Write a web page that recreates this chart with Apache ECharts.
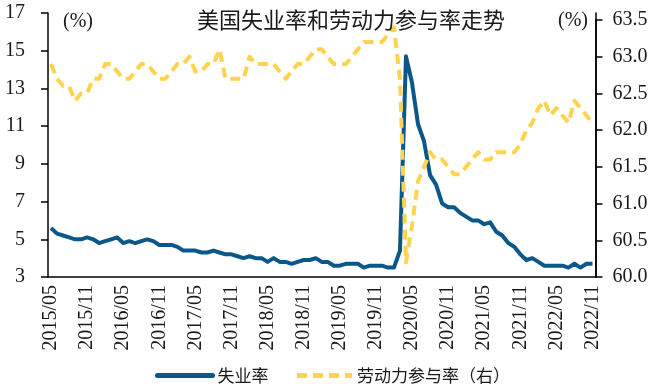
<!DOCTYPE html>
<html>
<head>
<meta charset="utf-8">
<script src="https://cdn.jsdelivr.net/npm/echarts@6/dist/echarts.min.js"></script>
<style>
html,body{margin:0;padding:0;background:#fff;}
#chart{width:659px;height:385px;}
</style>
</head>
<body>
<div id="chart"></div>
<script>
// Months May 2015 - Nov 2022
const months = [];
(function () {
  let y = 2015, m = 5;
  while (!(y === 2022 && m === 12)) {
    months.push(y + '/' + (m < 10 ? '0' + m : '' + m));
    m++; if (m > 12) { m = 1; y++; }
  }
})();

const unemployment = [
  5.6, 5.3, 5.2, 5.1, 5.0, 5.0, 5.1, 5.0, 4.8, 4.9, 5.0, 5.1,
  4.8, 4.9, 4.8, 4.9, 5.0, 4.9, 4.7, 4.7, 4.7, 4.6, 4.4, 4.4,
  4.4, 4.3, 4.3, 4.4, 4.3, 4.2, 4.2, 4.1, 4.0, 4.1, 4.0, 4.0,
  3.8, 4.0, 3.8, 3.8, 3.7, 3.8, 3.9, 3.9, 4.0, 3.8, 3.8, 3.6,
  3.6, 3.7, 3.7, 3.7, 3.5, 3.6, 3.6, 3.6, 3.5, 3.5, 4.4, 14.7,
  13.3, 11.1, 10.2, 8.4, 7.9, 6.9, 6.7, 6.7, 6.4, 6.2, 6.0, 6.0,
  5.8, 5.9, 5.4, 5.2, 4.8, 4.6, 4.2, 3.9, 4.0, 3.8, 3.6, 3.6,
  3.6, 3.6, 3.5, 3.7, 3.5, 3.7, 3.7
];

const participation = [
  62.9, 62.7, 62.6, 62.6, 62.4, 62.5, 62.5, 62.7, 62.7, 62.9, 62.9, 62.8,
  62.7, 62.7, 62.8, 62.9, 62.9, 62.8, 62.7, 62.7, 62.8, 62.9, 62.9, 63.0,
  62.8, 62.8, 62.9, 62.9, 63.1, 62.7, 62.7, 62.7, 62.7, 63.0, 62.9, 62.9,
  62.9, 62.9, 62.8, 62.7, 62.8, 62.9, 62.9, 63.0, 63.1, 63.1, 63.0, 62.9,
  62.9, 62.9, 63.0, 63.1, 63.2, 63.2, 63.2, 63.2, 63.3, 63.4, 62.7, 60.2,
  60.7, 61.3, 61.5, 61.7, 61.6, 61.6, 61.5, 61.4, 61.4, 61.5, 61.6, 61.7,
  61.6, 61.6, 61.7, 61.7, 61.7, 61.7, 61.8, 62.0, 62.1, 62.3, 62.4, 62.2,
  62.3, 62.2, 62.1, 62.4, 62.3, 62.2, 62.1
];

const leftTicks = { min: 3, max: 17, interval: 2 };
const rightTicks = { min: 60, max: 63.5, interval: 0.5 };

const titleText = '美国失业率和劳动力参与率走势';
const seriesNames = ['失业率', '劳动力参与率（右）'];

const BLUE = '#0b5789';
const YELLOW = '#ffd24f';
const NUM_FONT = 'Liberation Serif';
const CJK_FONT = 'Noto Sans CJK SC';
const TXT = '#1a1a1a';

const chart = echarts.init(document.getElementById('chart'), null, { renderer: 'canvas' });

const axisLineStyle = { color: '#000', width: 1.5 };

chart.setOption({
  animation: false,
  backgroundColor: '#fff',
  title: {
    text: titleText,
    left: 346, textAlign: 'center', top: 4,
    textStyle: { fontFamily: CJK_FONT, fontSize: 22, fontWeight: 'normal', color: TXT }
  },
  legend: {
    left: 150, top: 362,
    itemWidth: 55, itemHeight: 14, itemGap: 26,
    itemStyle: { opacity: 0 },
    textStyle: { fontFamily: CJK_FONT, fontSize: 17, color: TXT },
    data: [
      { name: seriesNames[0], itemStyle: { opacity: 0 }, lineStyle: { width: 5, color: BLUE, cap: 'round' } },
      { name: seriesNames[1], itemStyle: { opacity: 0 }, lineStyle: { width: 5, color: YELLOW, type: [10, 6] } }
    ]
  },
  graphic: [
    { type: 'text', left: 63, top: 12, style: { text: '(%)', font: '20px "Liberation Serif"', fill: TXT } },
    { type: 'text', left: 558, top: 11, style: { text: '(%)', font: '20px "Liberation Serif"', fill: TXT } }
  ],
  grid: [
    { left: 48, right: 63.5, top: 13, bottom: 108 },
    { left: 48, right: 63.5, top: 20, bottom: 108 }
  ],
  xAxis: [
    {
      type: 'category', gridIndex: 0, data: months, boundaryGap: true,
      axisLine: { lineStyle: axisLineStyle },
      axisTick: { interval: 5, length: 6, lineStyle: axisLineStyle },
      axisLabel: {
        interval: 5, rotate: 90, margin: 8,
        fontFamily: NUM_FONT, fontSize: 20, color: TXT,
        padding: [0, 0, 6, 0]
      },
      splitLine: { show: false }
    },
    {
      type: 'category', gridIndex: 1, data: months, boundaryGap: true, show: false
    }
  ],
  yAxis: [
    {
      type: 'value', gridIndex: 0, position: 'left',
      min: leftTicks.min, max: leftTicks.max, interval: leftTicks.interval,
      axisLine: { show: true, lineStyle: axisLineStyle },
      axisTick: { show: true, length: 7, lineStyle: axisLineStyle },
      axisLabel: { margin: 23, fontFamily: NUM_FONT, fontSize: 20, color: TXT },
      splitLine: { show: false }
    },
    {
      type: 'value', gridIndex: 1, position: 'right',
      min: rightTicks.min, max: rightTicks.max, interval: rightTicks.interval,
      axisLine: { show: true, lineStyle: axisLineStyle },
      axisTick: { show: true, length: 7, lineStyle: axisLineStyle },
      axisLabel: {
        margin: 17, fontFamily: NUM_FONT, fontSize: 20, color: TXT,
        formatter: function (v) { return v.toFixed(1); }
      },
      splitLine: { show: false }
    },
    {
      type: 'value', gridIndex: 0, position: 'right', min: 0, max: 1,
      axisLine: { show: true, lineStyle: axisLineStyle },
      axisTick: { show: false }, axisLabel: { show: false }, splitLine: { show: false }
    }
  ],
  series: [
    {
      name: seriesNames[0], type: 'line', xAxisIndex: 0, yAxisIndex: 0,
      data: unemployment, symbol: 'none', smooth: false,
      lineStyle: { color: BLUE, width: 4, join: 'round' },
      itemStyle: { color: BLUE }
    },
    {
      name: seriesNames[1], type: 'line', xAxisIndex: 1, yAxisIndex: 1,
      data: participation, symbol: 'none', smooth: false,
      lineStyle: { color: YELLOW, width: 4, type: [10, 6], cap: 'butt', join: 'round' },
      itemStyle: { color: YELLOW }
    }
  ]
});
</script>
</body>
</html>
